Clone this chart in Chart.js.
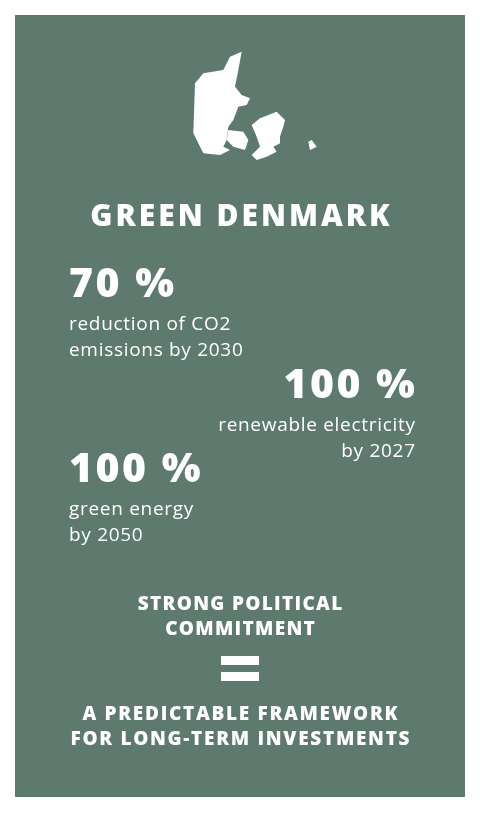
<!DOCTYPE html>
<html><head><meta charset="utf-8">
<script src="https://cdn.jsdelivr.net/npm/chart.js@4"></script>
<style>html,body{margin:0;padding:0;background:#fff}#wrap{width:480px;height:813px}</style>
</head><body><div id="wrap"><canvas id="c" width="480" height="813"></canvas></div>
<script>
const title = "GREEN DENMARK";
const statValues = [70, 100, 100];
const statLines = [["reduction of CO2","emissions by 2030"],["renewable electricity","by 2027"],["green energy","by 2050"]];
const statAlign = ["left","right","left"];
const footerTop = ["STRONG POLITICAL","COMMITMENT"];
const footerBottom = ["A PREDICTABLE FRAMEWORK","FOR LONG-TERM INVESTMENTS"];
const GREEN = "#5e7a6f";
const islands = [
 [[150,50],[185,35],[175,90],[165,140],[185,165],[210,175],[200,195],[175,200],[160,240],[145,260],[140,300],[130,320],[150,330],[120,345],[70,340],[40,280],[45,130],[70,100],[130,90]],
 [[145,270],[190,275],[205,300],[195,330],[160,320],[140,300]],
 [[215,255],[240,235],[290,215],[315,240],[310,260],[300,290],[300,310],[280,320],[290,335],[260,350],[230,360],[215,345],[240,320],[230,290]],
 [[385,305],[395,300],[410,320],[390,330]]
];
function txt(ctx,s,x,y,align,sp){
  ctx.letterSpacing=sp+"px";
  let w=ctx.measureText(s).width-sp;
  let sx = align==="center"? x-w/2 : align==="right"? x-w : x;
  ctx.textAlign="left"; ctx.fillText(s,sx,y);
}
const infographic = {
 id:'infographic',
 afterDraw(chart){
  const ctx = chart.ctx;
  ctx.save();
  ctx.fillStyle = GREEN; ctx.fillRect(15,15,450,782);
  ctx.fillStyle = "#fff";
  islands.forEach(p=>{ctx.beginPath();p.forEach((q,i)=>{const x=180+q[0]/3,y=40+q[1]/3;i?ctx.lineTo(x,y):ctx.moveTo(x,y);});ctx.closePath();ctx.fill();});
  ctx.textBaseline="alphabetic";
  ctx.font="800 30px 'Open Sans'";
  txt(ctx,title,240,226,"center",3);
  const pos=[[69,297],[415,398],[69,482]];
  statValues.forEach((v,i)=>{
   const [x,y]=pos[i];
   ctx.font="800 41px 'Open Sans'"; txt(ctx,v+" %",x,y,statAlign[i],2.5);
   ctx.font="19px 'Open Sans'";
   statLines[i].forEach((l,j)=>txt(ctx,l,x,y+33+j*26,statAlign[i],0.7));
  });
  ctx.font="800 19px 'Open Sans'";
  footerTop.forEach((l,j)=>txt(ctx,l,240,610+j*25,"center",1.3));
  ctx.fillRect(221,656,38,9); ctx.fillRect(221,672,38,9);
  footerBottom.forEach((l,j)=>txt(ctx,l,240,720+j*25,"center",1.7));
  ctx.restore();
 }
};
new Chart(document.getElementById('c'),{
 type:'bar',
 data:{labels:statLines.map(l=>l.join(' ')),datasets:[{data:statValues,backgroundColor:'rgba(0,0,0,0)'}]},
 options:{responsive:false,animation:false,plugins:{legend:{display:false},tooltip:{enabled:false}},
  scales:{x:{display:false},y:{display:false}}},
 plugins:[infographic]
});
</script></body></html>
